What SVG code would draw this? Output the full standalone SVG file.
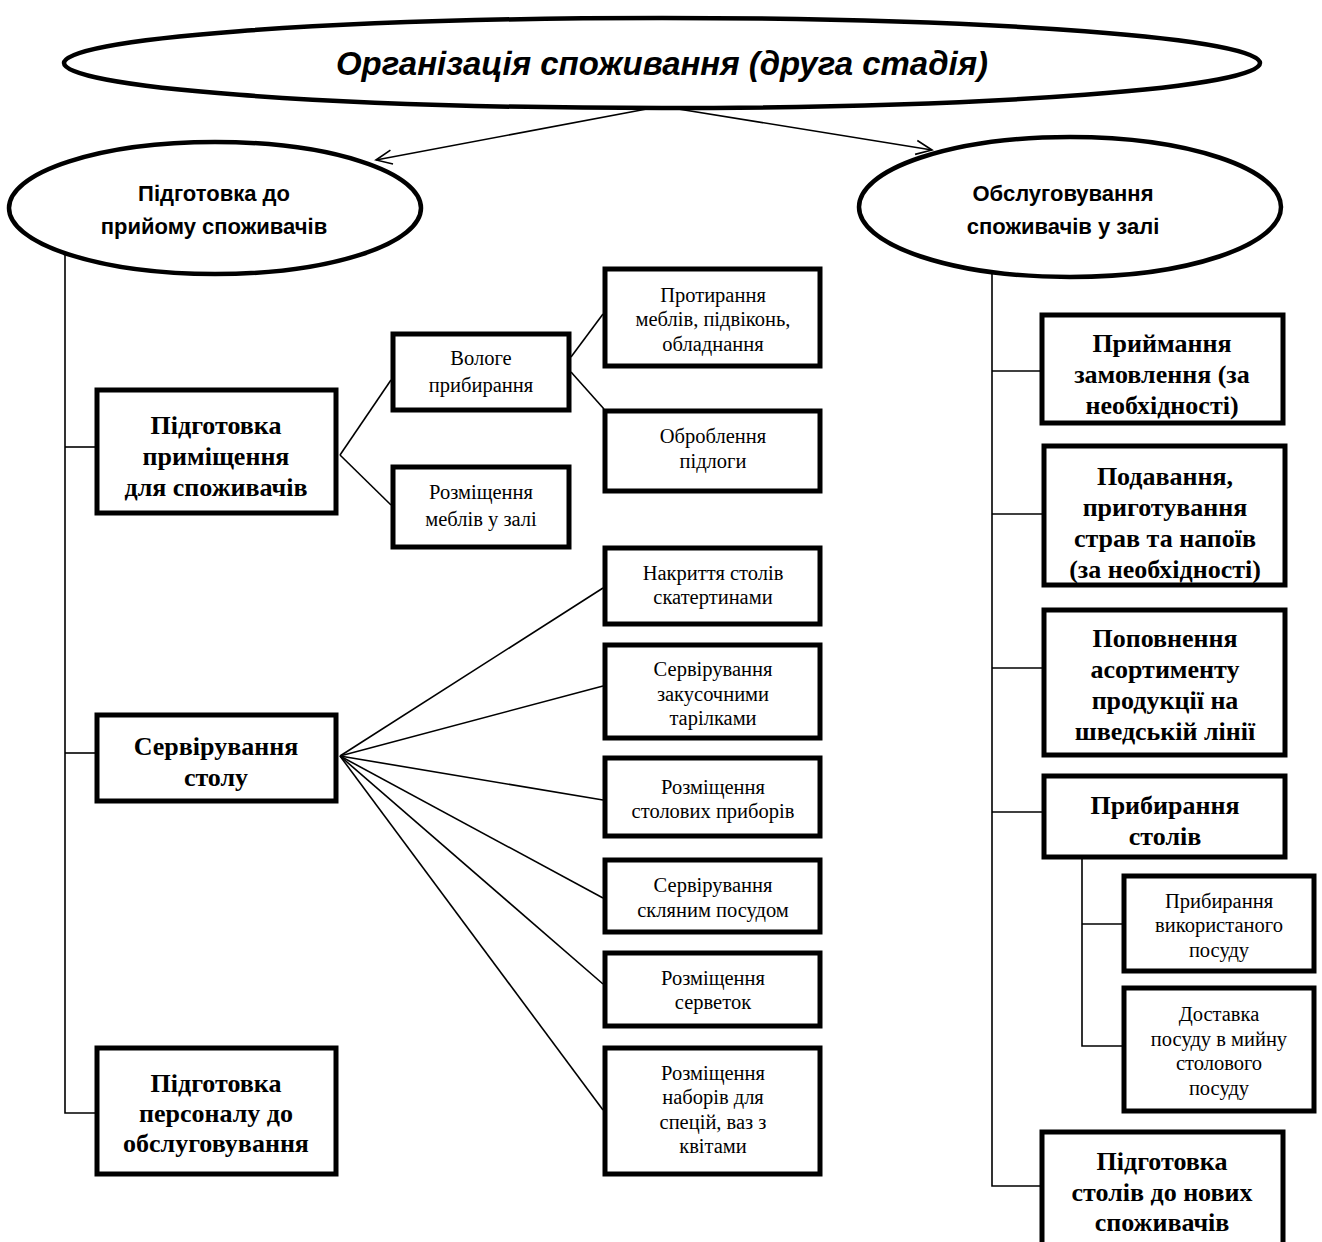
<svg xmlns="http://www.w3.org/2000/svg" width="1322" height="1242" viewBox="0 0 1322 1242">
<style>
.bg{fill:#fff}
.ell{fill:#fff;stroke:#000;stroke-width:4.5}
.box{fill:#fff;stroke:#000;stroke-width:5}
.ln{fill:none;stroke:#000;stroke-width:1.6}
.title{font-family:"Liberation Sans",Arial,sans-serif;font-weight:bold;font-style:italic;font-size:34px;text-anchor:middle}
.el{font-family:"Liberation Sans",Arial,sans-serif;font-weight:bold;font-size:22px;text-anchor:middle}
.bt{font-family:"Liberation Serif","Times New Roman",serif;font-weight:bold;font-size:26px;text-anchor:middle}
.st{font-family:"Liberation Serif","Times New Roman",serif;font-size:20.5px;text-anchor:middle}
</style>
<defs>
<marker id="arr" viewBox="0 0 20 20" refX="18" refY="10" markerWidth="20" markerHeight="20" markerUnits="userSpaceOnUse" orient="auto">
<path d="M2,3 L18,10 L2,17" fill="none" stroke="#000" stroke-width="1.6"/>
</marker>
</defs>
<rect class="bg" x="0" y="0" width="1322" height="1242"/>

<g id="connectors">
<line class="ln" x1="652" y1="108" x2="376" y2="160" marker-end="url(#arr)"/>
<line class="ln" x1="672" y1="108" x2="932" y2="150" marker-end="url(#arr)"/>
<polyline class="ln" points="65,240 65,1113 95,1113"/>
<line class="ln" x1="65" y1="447" x2="95" y2="447"/>
<line class="ln" x1="65" y1="753" x2="95" y2="753"/>
<line class="ln" x1="340" y1="455" x2="391" y2="380"/>
<line class="ln" x1="340" y1="455" x2="391" y2="505"/>
<line class="ln" x1="571" y1="357" x2="603" y2="314"/>
<line class="ln" x1="571" y1="372" x2="604" y2="409"/>
<line class="ln" x1="340" y1="756" x2="603" y2="588"/>
<line class="ln" x1="340" y1="756" x2="603" y2="686"/>
<line class="ln" x1="340" y1="756" x2="603" y2="800"/>
<line class="ln" x1="340" y1="756" x2="603" y2="898"/>
<line class="ln" x1="340" y1="756" x2="603" y2="984"/>
<line class="ln" x1="340" y1="756" x2="603" y2="1110"/>
<polyline class="ln" points="992,250 992,1186 1040,1186"/>
<line class="ln" x1="992" y1="371" x2="1040" y2="371"/>
<line class="ln" x1="992" y1="514" x2="1042" y2="514"/>
<line class="ln" x1="992" y1="668" x2="1042" y2="668"/>
<line class="ln" x1="992" y1="812" x2="1042" y2="812"/>
<polyline class="ln" points="1082,857 1082,1046 1122,1046"/>
<line class="ln" x1="1082" y1="924" x2="1122" y2="924"/>
</g>

<g id="root">
<ellipse class="ell" cx="662" cy="63" rx="598" ry="45"/>
<text class="title" x="662" y="75" textLength="652" lengthAdjust="spacingAndGlyphs">Організація споживання (друга стадія)</text>
</g>

<g id="prep">
<ellipse class="ell" cx="215" cy="208" rx="206" ry="66"/>
<text class="el" x="214" y="201">Підготовка до</text>
<text class="el" x="214" y="234">прийому споживачів</text>
</g>

<g id="service">
<ellipse class="ell" cx="1070" cy="207" rx="211" ry="70"/>
<text class="el" x="1063" y="201">Обслуговування</text>
<text class="el" x="1063" y="234">споживачів у залі</text>
</g>

<g id="room">
<rect class="box" x="97" y="390" width="239" height="123"/>
<text class="bt" x="216" y="434">Підготовка</text>
<text class="bt" x="216" y="465">приміщення</text>
<text class="bt" x="216" y="496">для споживачів</text>
</g>

<g id="table">
<rect class="box" x="97" y="715" width="239" height="86"/>
<text class="bt" x="216" y="755">Сервірування</text>
<text class="bt" x="216" y="786">столу</text>
</g>

<g id="staff">
<rect class="box" x="97" y="1048" width="239" height="126"/>
<text class="bt" x="216" y="1092">Підготовка</text>
<text class="bt" x="216" y="1122">персоналу до</text>
<text class="bt" x="216" y="1152">обслуговування</text>
</g>

<g id="wet">
<rect class="box" x="393" y="334" width="176" height="76"/>
<text class="st" x="481" y="365">Вологе</text>
<text class="st" x="481" y="392">прибирання</text>
</g>

<g id="furniture">
<rect class="box" x="393" y="467" width="176" height="80"/>
<text class="st" x="481" y="499">Розміщення</text>
<text class="st" x="481" y="526">меблів у залі</text>
</g>

<g id="wipe">
<rect class="box" x="605" y="269" width="215" height="97"/>
<text class="st" x="713" y="302">Протирання</text>
<text class="st" x="713" y="326">меблів, підвіконь,</text>
<text class="st" x="713" y="351">обладнання</text>
</g>

<g id="floor">
<rect class="box" x="605" y="411" width="215" height="80"/>
<text class="st" x="713" y="443">Оброблення</text>
<text class="st" x="713" y="468">підлоги</text>
</g>

<g id="cloth">
<rect class="box" x="605" y="548" width="215" height="76"/>
<text class="st" x="713" y="580">Накриття столів</text>
<text class="st" x="713" y="604">скатертинами</text>
</g>

<g id="plates">
<rect class="box" x="605" y="645" width="215" height="93"/>
<text class="st" x="713" y="676">Сервірування</text>
<text class="st" x="713" y="701">закусочними</text>
<text class="st" x="713" y="725">тарілками</text>
</g>

<g id="cutlery">
<rect class="box" x="605" y="758" width="215" height="78"/>
<text class="st" x="713" y="794">Розміщення</text>
<text class="st" x="713" y="818">столових приборів</text>
</g>

<g id="glass">
<rect class="box" x="605" y="860" width="215" height="72"/>
<text class="st" x="713" y="892">Сервірування</text>
<text class="st" x="713" y="917">скляним посудом</text>
</g>

<g id="napkins">
<rect class="box" x="605" y="953" width="215" height="73"/>
<text class="st" x="713" y="985">Розміщення</text>
<text class="st" x="713" y="1009">серветок</text>
</g>

<g id="spices">
<rect class="box" x="605" y="1048" width="215" height="126"/>
<text class="st" x="713" y="1080">Розміщення</text>
<text class="st" x="713" y="1104">наборів для</text>
<text class="st" x="713" y="1129">спецій, ваз з</text>
<text class="st" x="713" y="1153">квітами</text>
</g>

<g id="order">
<rect class="box" x="1042" y="315" width="241" height="108"/>
<text class="bt" x="1162" y="352">Приймання</text>
<text class="bt" x="1162" y="383">замовлення (за</text>
<text class="bt" x="1162" y="414">необхідності)</text>
</g>

<g id="serve">
<rect class="box" x="1044" y="446" width="241" height="139"/>
<text class="bt" x="1165" y="485">Подавання,</text>
<text class="bt" x="1165" y="516">приготування</text>
<text class="bt" x="1165" y="547">страв та напоїв</text>
<text class="bt" x="1165" y="578">(за необхідності)</text>
</g>

<g id="buffet">
<rect class="box" x="1044" y="610" width="241" height="145"/>
<text class="bt" x="1165" y="647">Поповнення</text>
<text class="bt" x="1165" y="678">асортименту</text>
<text class="bt" x="1165" y="709">продукції на</text>
<text class="bt" x="1165" y="740">шведській лінії</text>
</g>

<g id="clear">
<rect class="box" x="1044" y="776" width="241" height="81"/>
<text class="bt" x="1165" y="814">Прибирання</text>
<text class="bt" x="1165" y="845">столів</text>
</g>

<g id="used">
<rect class="box" x="1124" y="876" width="190" height="95"/>
<text class="st" x="1219" y="908">Прибирання</text>
<text class="st" x="1219" y="932">використаного</text>
<text class="st" x="1219" y="957">посуду</text>
</g>

<g id="deliver">
<rect class="box" x="1124" y="988" width="190" height="123"/>
<text class="st" x="1219" y="1021">Доставка</text>
<text class="st" x="1219" y="1046">посуду в мийну</text>
<text class="st" x="1219" y="1070">столового</text>
<text class="st" x="1219" y="1095">посуду</text>
</g>

<g id="newguests">
<rect class="box" x="1042" y="1132" width="241" height="120"/>
<text class="bt" x="1162" y="1170">Підготовка</text>
<text class="bt" x="1162" y="1201">столів до нових</text>
<text class="bt" x="1162" y="1231">споживачів</text>
</g>
</svg>
